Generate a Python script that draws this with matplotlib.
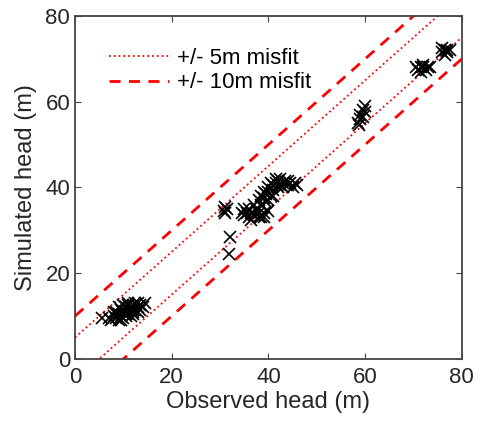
import matplotlib.pyplot as plt
import numpy as np

plt.rcParams['font.family'] = ['Liberation Sans', 'DejaVu Sans']

# observed vs simulated heads (m)
obs_head = [5.5, 7.5, 8, 8.5, 9, 9, 9.5, 10, 10, 10.5, 11, 11, 11.5, 12, 12, 12.5, 13, 13, 13.5, 14,
            14.5, 8, 9.5, 10.5, 11.5, 12, 13, 8.5, 9, 10, 11, 12.5, 13.5, 7, 9.5, 10.5, 12, 11,
            31, 31.5, 31, 30.8, 32, 31.8,
            34.5, 35, 35.5, 36, 36, 36.5, 37, 37.5, 38, 38, 38.5, 39, 39, 35, 37, 40, 36.5, 38.5,
            38, 38.5, 39, 39, 39.5, 40, 40, 40.5, 41, 41, 41.5, 42, 42, 42.5, 43, 43, 43.5, 44,
            44.5, 45, 45.5, 46, 40, 41, 39.5, 40.5, 41.5, 42.5, 44,
            58.5, 59, 59, 59.5, 60, 59.5, 60, 58.8,
            70.5, 71, 71.5, 72, 72.5, 73, 73.5, 71.5, 72,
            76, 76.5, 77, 76.5, 77, 76, 77.5]
sim_head = [9.5, 9, 10, 9.5, 10.5, 9, 10, 11, 9.5, 10, 11.5, 10.5, 12, 11, 12.5, 11.5, 12, 13, 12.5, 12,
            13, 11, 11.5, 12, 10, 10.5, 11, 11, 12, 12.5, 13, 13, 11.5, 9.5, 9, 10.5, 11.5, 12.5,
            34, 35, 35.5, 34.5, 28.5, 24.5,
            34, 33.5, 34, 33, 35, 34, 33.5, 35, 33, 34, 36, 34, 33, 35, 36, 34.5, 32.5, 33,
            37, 38, 39, 37.5, 38.5, 40, 39, 38, 40.5, 39.5, 41, 40, 41.5, 40.5, 41, 40, 41.5, 40.5,
            41, 40, 41, 40.5, 37, 38, 36.5, 41, 42, 42, 41.5,
            55, 56, 57, 58, 59, 56.5, 57.5, 54.5,
            68, 67.5, 68, 68, 67.5, 68, 68, 67, 68.5,
            71.5, 72, 72, 71, 71.5, 72.5, 72]

misfit_small = 5
misfit_large = 10

fig = plt.figure(figsize=(4.81, 4.34), dpi=100)
ax = fig.add_axes([0.156, 0.173, 0.804, 0.790])

xline = np.array([0, 80])
ax.plot(xline, xline + misfit_small, color='red', linestyle=':', linewidth=1.3, label='+/- 5m misfit')
ax.plot(xline, xline - misfit_small, color='red', linestyle=':', linewidth=1.3)
ax.plot(xline, xline + misfit_large, color='red', linestyle=(0, (4, 3)), linewidth=2.0, label='+/- 10m misfit')
ax.plot(xline, xline - misfit_large, color='red', linestyle=(0, (4, 3)), linewidth=2.0)

ax.plot(obs_head, sim_head, linestyle='none', marker='x', color='black', markersize=9, markeredgewidth=1.2)

ax.set_xlim(0, 80)
ax.set_ylim(0, 80)
ax.set_xticks([0, 20, 40, 60, 80])
ax.set_yticks([0, 20, 40, 60, 80])
ax.tick_params(direction='in', top=True, right=True, labelsize=16, length=4, color='#444444',
               labelcolor='#262626')
ax.tick_params(axis='x', pad=6)
for s in ax.spines.values():
    s.set_color('#444444')
    s.set_linewidth(1.3)

ax.set_xlabel('Observed head (m)', fontsize=17, color='#262626', labelpad=2)
ax.set_ylabel('Simulated head (m)', fontsize=17, color='#262626', labelpad=6)
ax.legend(loc='upper left', frameon=False, fontsize=16, handlelength=2.7,
          bbox_to_anchor=(0.035, 0.965), labelspacing=0.15, handletextpad=0.4)

plt.savefig('out.png', dpi=100)
